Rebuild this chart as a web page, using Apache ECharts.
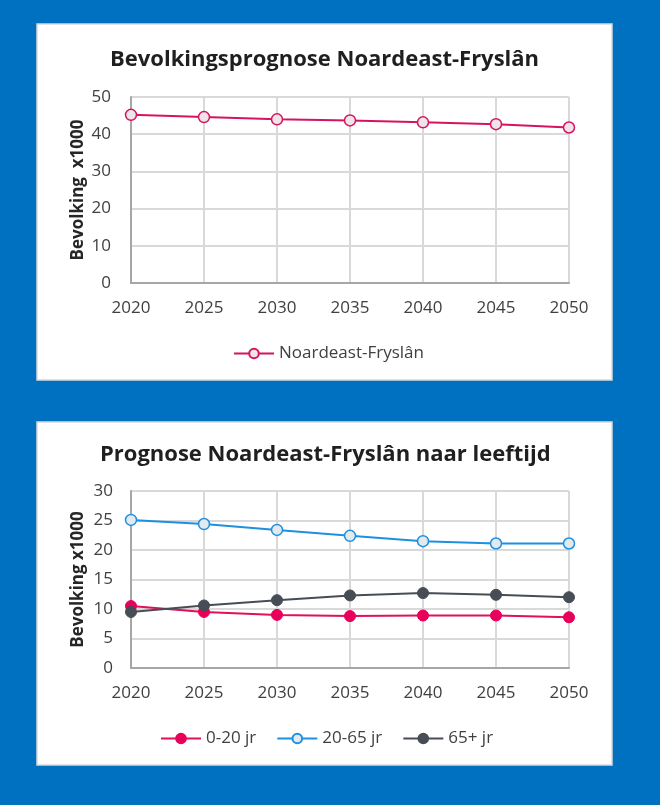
<!DOCTYPE html>
<html>
<head>
<meta charset="utf-8">
<script src="https://cdn.jsdelivr.net/npm/echarts@6/dist/echarts.min.js"></script>
<style>
html,body{margin:0;padding:0;background:#0070C0;}
#c{width:660px;height:805px;}
</style>
</head>
<body>
<div id="c"></div>
<script>
var years = ['2020','2025','2030','2035','2040','2045','2050'];
var totaal = [45.2, 44.6, 44.0, 43.7, 43.2, 42.7, 41.8];
var jong = [10.5, 9.5, 9.0, 8.8, 8.9, 8.9, 8.6];
var midden = [25.1, 24.4, 23.4, 22.4, 21.5, 21.1, 21.1];
var oud = [9.5, 10.6, 11.5, 12.3, 12.7, 12.4, 12.0];
var title1 = 'Bevolkingsprognose Noardeast-Fryslân';
var title2 = 'Prognose Noardeast-Fryslân naar leeftijd';
var yName1 = 'Bevolking  x1000';
var yName2 = 'Bevolking x1000';

var FONT = '"Open Sans", "Noto Sans", sans-serif';
var chart = echarts.init(document.getElementById('c'));

function xAxis(gi){
  return {
    type:'category', gridIndex:gi, data:years, boundaryGap:false,
    axisLine:{lineStyle:{color:'#A6A6A6', width:2}},
    axisTick:{show:false},
    axisLabel:{color:'#404040', fontSize:17, fontFamily:FONT, margin:17},
    splitLine:{show:true, lineStyle:{color:'#D9D9D9', width:2}}
  };
}
function yAxis(gi, max, interval, name, margin){
  return {
    type:'value', gridIndex:gi, min:0, max:max, interval:interval,
    name:name, nameLocation:'middle', nameGap:44, nameMoveOverlap:false,
    nameTextStyle:{color:'#262626', fontSize:17, fontWeight:'bold', fontFamily:FONT},
    axisLine:{show:true, lineStyle:{color:'#A6A6A6', width:2}},
    axisTick:{show:false},
    axisLabel:{color:'#404040', fontSize:17, fontFamily:FONT, margin:margin},
    splitLine:{show:true, lineStyle:{color:'#D9D9D9', width:2}}
  };
}

chart.setOption({
  backgroundColor:'#0070C0',
  animation:false,
  graphic:[
    {type:'rect', shape:{x:37, y:24, width:575, height:356}, style:{fill:'#ffffff', stroke:'#D9D9D9', lineWidth:1.5}, z:-10},
    {type:'rect', shape:{x:37, y:422, width:575, height:343}, style:{fill:'#ffffff', stroke:'#D9D9D9', lineWidth:1.5}, z:-10}
  ],
  title:[
    {text:title1, left:105, top:44, textStyle:{color:'#1F1F1F', fontSize:22, fontWeight:'bold', fontFamily:FONT}},
    {text:title2, left:95, top:439, textStyle:{color:'#1F1F1F', fontSize:22, fontWeight:'bold', fontFamily:FONT}}
  ],
  legend:[
    {data:['Noardeast-Fryslân'], top:340, left:228, itemWidth:40, itemHeight:12, itemGap:22,
     textStyle:{color:'#404040', fontSize:17, fontFamily:FONT}},
    {data:['0-20 jr','20-65 jr','65+ jr'], top:725, left:155, itemWidth:40, itemHeight:12, itemGap:20,
     textStyle:{color:'#404040', fontSize:17, fontFamily:FONT}}
  ],
  grid:[
    {left:131, right:91, top:97, height:186},
    {left:131, right:91, top:491, height:177}
  ],
  xAxis:[xAxis(0), xAxis(1)],
  yAxis:[yAxis(0, 50, 10, yName1, 20), yAxis(1, 30, 5, yName2, 18)],
  series:[
    {name:'Noardeast-Fryslân', type:'line', xAxisIndex:0, yAxisIndex:0, data:totaal,
     symbol:'circle', symbolSize:11,
     lineStyle:{color:'#D6145E', width:2},
     itemStyle:{color:'#EEE4EA', borderColor:'#D6145E', borderWidth:1.5}},
    {name:'0-20 jr', type:'line', xAxisIndex:1, yAxisIndex:1, data:jong,
     symbol:'circle', symbolSize:11,
     lineStyle:{color:'#E0105A', width:2},
     itemStyle:{color:'#E8005A', borderColor:'#E8005A', borderWidth:1}},
    {name:'20-65 jr', type:'line', xAxisIndex:1, yAxisIndex:1, data:midden,
     symbol:'circle', symbolSize:11,
     lineStyle:{color:'#1E90E0', width:2},
     itemStyle:{color:'#E2EAF0', borderColor:'#1E90E0', borderWidth:1.5}},
    {name:'65+ jr', type:'line', xAxisIndex:1, yAxisIndex:1, data:oud,
     symbol:'circle', symbolSize:11,
     lineStyle:{color:'#464D55', width:2},
     itemStyle:{color:'#464D55', borderColor:'#464D55', borderWidth:1}}
  ]
});
</script>
</body>
</html>
